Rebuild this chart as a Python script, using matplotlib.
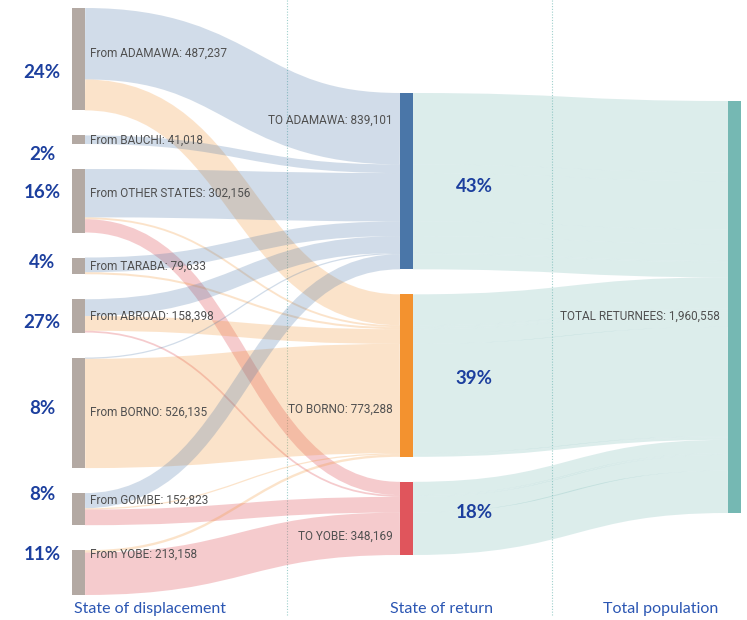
import numpy as np
import matplotlib
matplotlib.use('Agg')
import matplotlib.pyplot as plt
from matplotlib.path import Path
from matplotlib.patches import PathPatch, Rectangle

# ---------------- data ----------------
origins = ['ADAMAWA', 'BAUCHI', 'OTHER STATES', 'TARABA', 'ABROAD', 'BORNO', 'GOMBE', 'YOBE']
origin_pct = ['24%', '2%', '16%', '4%', '27%', '8%', '8%', '11%']
destinations = ['ADAMAWA', 'BORNO', 'YOBE']
dest_pct = ['43%', '39%', '18%']
# returnees from each origin into each state of return
to_adamawa = [340000, 41018, 230000, 70000, 80000, 6000, 72083, 0]
to_borno = [147237, 0, 9000, 9633, 70000, 520135, 6000, 11283]
to_yobe = [0, 0, 63156, 0, 8398, 0, 74740, 201875]
total_name = 'TOTAL RETURNEES'
column_titles = ['State of displacement', 'State of return', 'Total population']

flows = np.array([to_adamawa, to_borno, to_yobe]).T   # origins x destinations
origin_tot = flows.sum(axis=1)
dest_tot = flows.sum(axis=0)
grand = flows.sum()

# ---------------- layout ----------------
W, H = 747, 620
col_x = [72, 400, 728]
col_top = [8, 93, 101]
node_w = 13
gap = 25
k = 412.0 / grand   # px per person

c_node_left = '#b3a9a3'
c_dest = ['#4a76a8', '#f3922f', '#e0555c']
a_dest = [0.25, 0.25, 0.3]
c_total = '#75b8b3'
c_text = '#505050'
c_blue = '#1c3f9e'
c_title = '#2b56b3'
lab_font = 'Roboto'

def stack(values, top):
    tops = []
    y = top
    for v in values:
        tops.append(y)
        y += v * k + gap
    return tops

o_top = stack(origin_tot, col_top[0])
d_top = stack(dest_tot, col_top[1])
t_top = col_top[2]

fig = plt.figure(figsize=(W / 100, H / 100), dpi=100)
ax = fig.add_axes([0, 0, 1, 1])
ax.set_xlim(0, W)
ax.set_ylim(H, 0)
ax.axis('off')

# dotted guides
for gx in [287, 552]:
    ax.plot([gx, gx], [0, 615], color='#9fd0cc', lw=0.8, ls=(0, (1, 1.5)), zorder=0)

def link(x0, y0, x1, y1, w, color, alpha):
    xm = (x0 + x1) / 2
    p = Path([(x0, y0), (xm, y0), (xm, y1), (x1, y1)],
             [Path.MOVETO, Path.CURVE4, Path.CURVE4, Path.CURVE4])
    ax.add_patch(PathPatch(p, fill=False, edgecolor=color, alpha=alpha,
                           lw=w * 0.72, capstyle='butt', zorder=1))

# offsets: at source ordered by target, at target ordered by source
src_pos = {}
for i in range(len(origins)):
    off = 0.0
    for j in range(len(destinations)):
        w = flows[i, j] * k
        src_pos[(i, j)] = o_top[i] + off + w / 2
        off += w
dst_pos = {}
for j in range(len(destinations)):
    off = 0.0
    for i in range(len(origins)):
        w = flows[i, j] * k
        dst_pos[(i, j)] = d_top[j] + off + w / 2
        off += w

# origin -> state of return
for i in range(len(origins)):
    for j in range(len(destinations)):
        if flows[i, j] <= 0:
            continue
        link(col_x[0] + node_w, src_pos[(i, j)], col_x[1], dst_pos[(i, j)],
             flows[i, j] * k, c_dest[j], a_dest[j])

# state of return -> total (kept split by origin)
off = 0.0
for j in range(len(destinations)):
    for i in range(len(origins)):
        if flows[i, j] <= 0:
            continue
        w = flows[i, j] * k
        link(col_x[1] + node_w, dst_pos[(i, j)], col_x[2], t_top + off + w / 2,
             w, c_total, 0.25)
        off += w

# nodes
for i in range(len(origins)):
    ax.add_patch(Rectangle((col_x[0], o_top[i]), node_w, origin_tot[i] * k,
                           color=c_node_left, lw=0, zorder=3))
for j in range(len(destinations)):
    ax.add_patch(Rectangle((col_x[1], d_top[j]), node_w, dest_tot[j] * k,
                           color=c_dest[j], lw=0, zorder=3))
ax.add_patch(Rectangle((col_x[2], t_top), node_w, grand * k,
                       color=c_total, lw=0, zorder=3))

# labels
left_label_y = [53, 140, 193, 266, 316, 412, 500, 554]
for name, tot, ly in zip(origins, origin_tot, left_label_y):
    ax.text(90, ly, f'From {name}: {tot:,}', family=lab_font, fontsize=8.5,
            color=c_text, ha='left', va='center', zorder=4)

left_pct_y = [73, 154, 193, 263, 322, 409, 495, 554]
for pct, py in zip(origin_pct, left_pct_y):
    ax.text(42, py, pct, family='Lato', fontweight='bold', fontsize=13.5,
            color=c_blue, ha='center', va='center', zorder=4)

mid_label_y = [120, 409, 536]
for name, tot, ly in zip(destinations, dest_tot, mid_label_y):
    ax.text(393, ly, f'TO {name}: {tot:,}', family=lab_font, fontsize=8.5,
            color=c_text, ha='right', va='center', zorder=4)

mid_pct_y = [187, 378, 513]
for pct, py in zip(dest_pct, mid_pct_y):
    ax.text(474, py, pct, family='Lato', fontweight='bold', fontsize=13.5,
            color=c_blue, ha='center', va='center', zorder=4)

ax.text(640, 316, f'{total_name}: {grand:,}', family=lab_font, fontsize=8.5,
        color=c_text, ha='center', va='center', zorder=4)

for title, tx in zip(column_titles, [150, 441, 661]):
    ax.text(tx, 609, title, family='Lato', fontsize=11.5, color=c_title,
            ha='center', va='center', zorder=4)

fig.savefig('out.png', dpi=100)
